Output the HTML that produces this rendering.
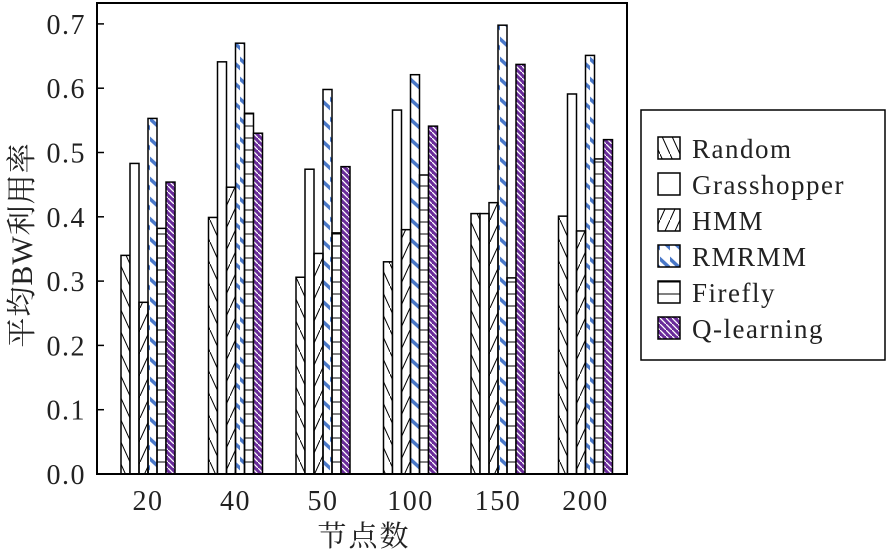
<!DOCTYPE html>
<html><head><meta charset="utf-8"><style>
html,body{margin:0;padding:0;background:#fff;}
svg{display:block;}
text{font-family:"Liberation Serif","Noto Serif CJK SC",serif;fill:#222;}
</style></head><body>
<svg width="888" height="550" viewBox="0 0 888 550" xmlns="http://www.w3.org/2000/svg">
<defs>
<pattern id="pR" width="10" height="22" patternUnits="userSpaceOnUse"><line x1="0" y1="0" x2="10" y2="22" stroke="#000" stroke-width="1"/></pattern>
<pattern id="pH" width="10" height="22" patternUnits="userSpaceOnUse"><line x1="0" y1="22" x2="10" y2="0" stroke="#000" stroke-width="1"/></pattern>
<pattern id="pB" width="10" height="20" patternUnits="userSpaceOnUse"><line x1="-2" y1="-3" x2="12" y2="10" stroke="#4a78c8" stroke-width="3.5"/><line x1="-2" y1="17" x2="12" y2="30" stroke="#4a78c8" stroke-width="3.5"/></pattern>
<pattern id="pF" width="10" height="12" patternUnits="userSpaceOnUse"><line x1="0" y1="6" x2="10" y2="6" stroke="#000" stroke-width="1"/></pattern>
<pattern id="pQ" width="6" height="6" patternUnits="userSpaceOnUse"><rect width="6" height="6" fill="#6a2c9a"/><line x1="0" y1="0" x2="6" y2="6" stroke="#fff" stroke-width="1.3"/></pattern>
</defs>
<g id="bars" stroke="#000" stroke-width="1.5"></g>
<rect x="97" y="3" width="530" height="471" fill="none" stroke="#000" stroke-width="2"/>
<g stroke="#000" stroke-width="1.5" id="ticks"></g>
<g font-size="28" letter-spacing="1.5" text-anchor="end" id="ylab"></g>
<g font-size="28" letter-spacing="1.5" text-anchor="middle" id="xlab"></g>
<text x="364" y="546" font-size="29" letter-spacing="2" text-anchor="middle">节点数</text>
<text transform="translate(32,245) rotate(-90)" font-size="30" letter-spacing="1" text-anchor="middle">平均BW利用率</text>
<rect x="641" y="110" width="244" height="250" fill="#fff" stroke="#000" stroke-width="1.5"/>
<g id="leg" font-size="27" letter-spacing="1.5"></g>
</svg>
<script>
var ns="http://www.w3.org/2000/svg";
function el(p,t,a,txt){var e=document.createElementNS(ns,t);for(var k in a)e.setAttribute(k,a[k]);if(txt)e.textContent=txt;document.getElementById(p).appendChild(e);}
var fills=["url(#pR)","#fff","url(#pH)","url(#pB)","url(#pF)","url(#pQ)"];
var names=["Random","Grasshopper","HMM","RMRMM","Firefly","Q-learning"];
var data=[[.34,.483,.267,.553,.382,.454],[.399,.641,.446,.670,.561,.530],[.306,.474,.343,.598,.375,.478],[.330,.566,.380,.621,.465,.541],[.405,.405,.422,.698,.305,.637],[.401,.591,.378,.651,.490,.520]];
var labs=["20","40","50","100","150","200"];
var y0=474,s=643;
for(var g=0;g<6;g++){var c=148+g*87.5;
 for(var i=0;i<6;i++){var h=data[g][i]*s;el("bars","rect",{x:c-27+i*9,y:y0-h,width:9,height:h,fill:fills[i]});}
 el("ticks","line",{x1:c,y1:474,x2:c,y2:467});
 el("xlab","text",{x:c,y:510},labs[g]);}
for(var k=0;k<=7;k++){var y=y0-k*64.3;el("ticks","line",{x1:97,y1:y,x2:104,y2:y});el("ylab","text",{x:86,y:y+10},(k/10).toFixed(1));}
for(var i=0;i<6;i++){var y=137+i*36;el("leg","rect",{x:658,y:y,width:22,height:22,fill:fills[i],stroke:"#000","stroke-width":1.5});el("leg","text",{x:692,y:y+21},names[i]);}
</script>
</body></html>
